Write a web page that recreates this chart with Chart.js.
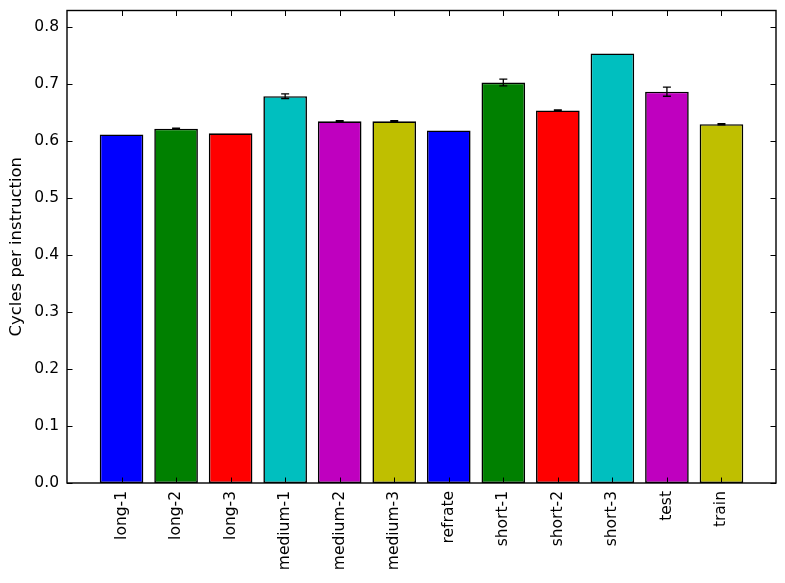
<!DOCTYPE html>
<html>
<head>
<meta charset="utf-8">
<script src="https://cdn.jsdelivr.net/npm/chart.js@4/dist/chart.umd.min.js"></script>
<style>
  html, body { margin: 0; padding: 0; background: #ffffff; }
  #wrap { width: 785px; height: 583px; }
</style>
</head>
<body>
<div id="wrap"><canvas id="c" width="785" height="583"></canvas></div>
<script>
const categories = ["long-1","long-2","long-3","medium-1","medium-2","medium-3","refrate","short-1","short-2","short-3","test","train"];
const cpiValues  = [0.611, 0.621, 0.613, 0.678, 0.634, 0.634, 0.618, 0.702, 0.653, 0.753, 0.686, 0.629];
const cpiErrors  = [0.000, 0.001, 0.000, 0.004, 0.001, 0.001, 0.000, 0.006, 0.001, 0.000, 0.008, 0.001];
const barColors  = ["#0000ff","#008000","#ff0000","#00bfbf","#bf00bf","#bfbf00","#0000ff","#008000","#ff0000","#00bfbf","#bf00bf","#bfbf00"];
const yTicks     = [0.0, 0.1, 0.2, 0.3, 0.4, 0.5, 0.6, 0.7, 0.8];
const yMax = 0.8283;
const yTitle = "Cycles per instruction";

const FONT = "'DejaVu Sans', 'Liberation Sans', sans-serif";

const framePlugin = {
  id: 'frame',
  afterDatasetsDraw(chart) {
    const ctx = chart.ctx;
    const ca = chart.chartArea;
    const xs = chart.scales.x, ys = chart.scales.y;
    ctx.save();
    // error bars
    ctx.strokeStyle = '#000';
    ctx.lineWidth = 1.3;
    const cap = 4;
    cpiValues.forEach((v, i) => {
      const e = cpiErrors[i];
      if (e <= 0) return;
      const x = xs.getPixelForValue(i);
      const y1 = ys.getPixelForValue(v - e);
      const y2 = ys.getPixelForValue(v + e);
      ctx.beginPath();
      ctx.moveTo(x, y1); ctx.lineTo(x, y2);
      ctx.moveTo(x - cap, y1); ctx.lineTo(x + cap, y1);
      ctx.moveTo(x - cap, y2); ctx.lineTo(x + cap, y2);
      ctx.stroke();
    });
    // inward ticks
    const tl = 5.5;
    ctx.lineWidth = 1;
    ctx.beginPath();
    yTicks.forEach(t => {
      const y = Math.round(ys.getPixelForValue(t)) + 0.5;
      ctx.moveTo(ca.left, y); ctx.lineTo(ca.left + tl, y);
      ctx.moveTo(ca.right, y); ctx.lineTo(ca.right - tl, y);
    });
    categories.forEach((c, i) => {
      const x = Math.round(xs.getPixelForValue(i)) + 0.5;
      ctx.moveTo(x, ca.bottom); ctx.lineTo(x, ca.bottom - tl);
      ctx.moveTo(x, ca.top); ctx.lineTo(x, ca.top + tl);
    });
    ctx.stroke();
    // frame
    ctx.lineWidth = 1.4;
    ctx.strokeRect(ca.left, ca.top, ca.right - ca.left, ca.bottom - ca.top);
    ctx.restore();
  }
};

new Chart(document.getElementById('c'), {
  type: 'bar',
  data: {
    datasets: [{
      data: cpiValues.map((v, i) => ({ x: i, y: v })),
      backgroundColor: barColors,
      borderColor: '#000000',
      borderWidth: 1.6,
      borderSkipped: false,
      categoryPercentage: 1.0,
      barPercentage: 0.8
    }]
  },
  options: {
    responsive: false,
    animation: false,
    devicePixelRatio: 1,
    layout: { padding: { top: 10.5, right: 9, left: 0, bottom: 0 } },
    plugins: { legend: { display: false }, tooltip: { enabled: false } },
    scales: {
      x: {
        type: 'linear',
        offset: false,
        min: -1,
        max: 12,
        grid: { display: false, drawTicks: false, offset: false },
        border: { display: false },
        afterBuildTicks: (scale) => { scale.ticks = categories.map((_, i) => ({ value: i })); },
        afterFit: (scale) => { scale.height = 100; scale.paddingLeft = 0; scale.paddingRight = 0; },
        ticks: {
          autoSkip: false,
          minRotation: 90,
          maxRotation: 90,
          padding: 8,
          color: '#000',
          font: { family: FONT, size: 15.5 },
          callback: (v) => categories[v] ?? ''
        }
      },
      y: {
        min: 0,
        max: yMax,
        grid: { display: false, drawTicks: false },
        border: { display: false },
        afterBuildTicks: (scale) => { scale.ticks = yTicks.map(v => ({ value: v })); },
        afterFit: (scale) => { scale.width = 67; scale.paddingTop = 0; scale.paddingBottom = 0; },
        ticks: {
          padding: 8,
          color: '#000',
          font: { family: FONT, size: 15.5 },
          callback: (v) => Number(v).toFixed(1)
        },
        title: {
          display: true,
          text: yTitle,
          color: '#000',
          font: { family: FONT, size: 16.5 },
          padding: { top: 7, bottom: 0 }
        }
      }
    }
  },
  plugins: [framePlugin]
});
</script>
</body>
</html>
